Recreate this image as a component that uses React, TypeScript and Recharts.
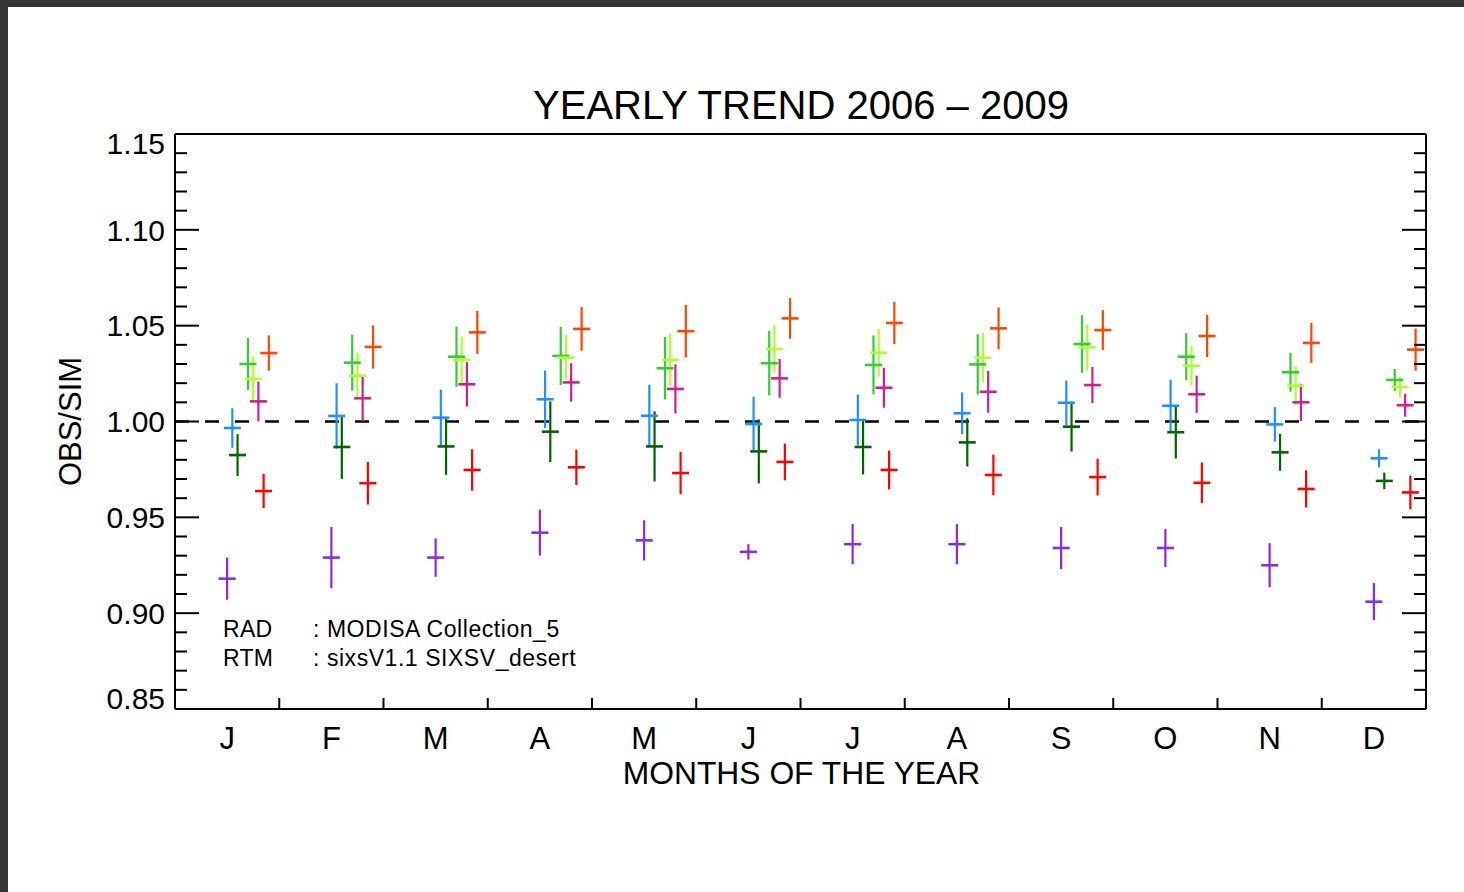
import React from 'react';
import { ComposedChart, Scatter, XAxis, YAxis, ErrorBar, ReferenceLine } from 'recharts';

// ---- labels ----
const TITLE = 'YEARLY TREND 2006 \u2013 2009';
const X_TITLE = 'MONTHS OF THE YEAR';
const Y_TITLE = 'OBS/SIM';
const MONTHS = ['J', 'F', 'M', 'A', 'M', 'J', 'J', 'A', 'S', 'O', 'N', 'D'];
const Y_TICK_LABELS = ['0.85', '0.90', '0.95', '1.00', '1.05', '1.10', '1.15'];
const INFO_KEYS = ['RAD', 'RTM'];
const INFO_VALUES = [': MODISA Collection_5', ': sixsV1.1 SIXSV_desert'];

// ---- monthly mean OBS/SIM ratios and their spread ----
const violetRatio = [0.918, 0.929, 0.929, 0.942, 0.938, 0.932, 0.936, 0.936, 0.934, 0.934, 0.925, 0.906];
const violetErr = [0.011, 0.016, 0.010, 0.012, 0.0105, 0.004, 0.0105, 0.0105, 0.011, 0.010, 0.0115, 0.0097];

const blueRatio = [0.9966, 1.0029, 1.002, 1.0116, 1.003, 0.9987, 1.0008, 1.0043, 1.0098, 1.0082, 0.9985, 0.9808];
const blueErr = [0.0103, 0.017, 0.0146, 0.015, 0.0162, 0.0142, 0.0133, 0.0109, 0.0116, 0.0136, 0.009, 0.0047];

const darkGreenRatio = [0.9825, 0.9867, 0.987, 0.9947, 0.987, 0.9844, 0.9867, 0.9891, 0.9973, 0.9944, 0.9839, 0.969];
const darkGreenErr = [0.0109, 0.0166, 0.0148, 0.0158, 0.0183, 0.0167, 0.0143, 0.0126, 0.013, 0.0137, 0.0096, 0.0043];

const greenRatio = [1.03, 1.0307, 1.0338, 1.0342, 1.0278, 1.0304, 1.0295, 1.0298, 1.0404, 1.0338, 1.0257, 1.0217];
const greenErr = [0.0135, 0.0146, 0.0157, 0.0152, 0.0163, 0.0168, 0.0154, 0.0157, 0.015, 0.0123, 0.0102, 0.0057];

const limeRatio = [1.0222, 1.0239, 1.0321, 1.0333, 1.0321, 1.0378, 1.0359, 1.0333, 1.0387, 1.0291, 1.0187, 1.018];
const limeErr = [0.0117, 0.012, 0.0122, 0.0117, 0.0137, 0.0123, 0.0125, 0.0129, 0.0119, 0.0103, 0.0102, 0.0052];

const magentaRatio = [1.0105, 1.0121, 1.0194, 1.0204, 1.017, 1.0225, 1.0176, 1.0155, 1.019, 1.0142, 1.01, 1.0085];
const magentaErr = [0.0104, 0.012, 0.0116, 0.01, 0.0128, 0.0101, 0.0104, 0.0109, 0.0094, 0.0097, 0.0097, 0.006];

const redRatio = [0.9637, 0.9678, 0.9747, 0.9761, 0.9731, 0.9789, 0.9747, 0.9721, 0.971, 0.968, 0.9648, 0.963];
const redErr = [0.0089, 0.0111, 0.0108, 0.0092, 0.0111, 0.0096, 0.0101, 0.0106, 0.0096, 0.0106, 0.0097, 0.0088];

const orangeRatio = [1.0357, 1.0389, 1.0465, 1.0483, 1.0471, 1.0538, 1.0514, 1.0486, 1.0477, 1.0446, 1.041, 1.0375];
const orangeErr = [0.0092, 0.0113, 0.0112, 0.0114, 0.0137, 0.0106, 0.011, 0.0109, 0.0104, 0.011, 0.0104, 0.011];

// ---- series table: colour and horizontal offset inside each month ----
const SERIES = [
  { key: 'violet', color: '#8a2be2', offset: 0.5, values: violetRatio, errors: violetErr },
  { key: 'blue', color: '#1e90ff', offset: 0.55, values: blueRatio, errors: blueErr },
  { key: 'darkGreen', color: '#006400', offset: 0.6, values: darkGreenRatio, errors: darkGreenErr },
  { key: 'green', color: '#32cd32', offset: 0.7, values: greenRatio, errors: greenErr },
  { key: 'lime', color: '#adff2f', offset: 0.75, values: limeRatio, errors: limeErr },
  { key: 'magenta', color: '#d02090', offset: 0.8, values: magentaRatio, errors: magentaErr },
  { key: 'red', color: '#ff0000', offset: 0.85, values: redRatio, errors: redErr },
  { key: 'orange', color: '#ff4500', offset: 0.9, values: orangeRatio, errors: orangeErr },
].map((s) => ({
  ...s,
  data: MONTHS.map((m, i) => ({ x: i + s.offset, y: s.values[i], err: s.errors[i], month: m })),
}));

// ---- axes ----
const Y_MAJOR = Y_TICK_LABELS.map(Number);
const Y_MIN = Y_MAJOR[0];
const Y_MAX = Y_MAJOR[Y_MAJOR.length - 1];
const Y_ALL_TICKS: number[] = [];
for (let k = Math.round(Y_MIN * 100); k <= Math.round(Y_MAX * 100); k++) Y_ALL_TICKS.push(k / 100);
const isMajorY = (v: number) => Math.round(v * 100) % 5 === 0;

// month boundaries (tick marks) and month centres (labels)
const X_BOUNDARIES = MONTHS.slice(1).map((_, i) => i + 1);
const X_CENTRES = MONTHS.map((_, i) => i + 0.5);
const X_BOTTOM_TICKS = [...X_CENTRES, ...X_BOUNDARIES].sort((a, b) => a - b);

const FONT = '"Liberation Sans", Arial, Helvetica, sans-serif';
const W = 1464;
const H = 892;

const LeftTick = (props: any) => {
  const { x, y, payload } = props;
  const v = payload.value as number;
  const major = isMajorY(v);
  const len = major ? 24 : 12;
  let shift = 0;
  if (Math.abs(v - Y_MIN) < 1e-6) shift = -11;
  if (Math.abs(v - Y_MAX) < 1e-6) shift = 9;
  const idx = Y_MAJOR.findIndex((m) => Math.abs(m - v) < 1e-6);
  return (
    <g>
      <line x1={x} x2={x + len} y1={y} y2={y} stroke="#000" strokeWidth={2} />
      {major && idx >= 0 && (
        <text x={x - 10} y={y + shift} dy="0.36em" textAnchor="end" fontFamily={FONT} fontSize={30} fill="#000">
          {Y_TICK_LABELS[idx]}
        </text>
      )}
    </g>
  );
};

const RightTick = (props: any) => {
  const { x, y, payload } = props;
  const len = isMajorY(payload.value) ? 24 : 12;
  return <line x1={x - len} x2={x} y1={y} y2={y} stroke="#000" strokeWidth={2} />;
};

const BottomTick = (props: any) => {
  const { x, y, payload } = props;
  const v = payload.value as number;
  if (Number.isInteger(v)) {
    return <line x1={x} x2={x} y1={y} y2={y - 11} stroke="#000" strokeWidth={2} />;
  }
  return (
    <text x={x} y={y + 40} textAnchor="middle" fontFamily={FONT} fontSize={31} fill="#000">
      {MONTHS[Math.floor(v)]}
    </text>
  );
};

const TopTick = (props: any) => {
  const { x, y } = props;
  return <line x1={x} x2={x} y1={y} y2={y + 11} stroke="#000" strokeWidth={2} />;
};

const makeCross = (color: string) => (props: any) => {
  const { cx, cy } = props;
  if (cx == null || cy == null) return <g />;
  return <line x1={cx - 8.5} x2={cx + 8.5} y1={cy} y2={cy} stroke={color} strokeWidth={2.6} />;
};

const axisLine = { stroke: '#000', strokeWidth: 2 };

export default function App() {
  return (
    <div style={{ position: 'absolute', left: 0, top: 0, width: W, height: H, background: '#363636' }}>
      <div style={{ position: 'absolute', left: 8, top: 7, width: W - 8, height: H - 7, background: '#fff' }} />
      <div style={{ position: 'absolute', left: 0, top: 0 }}>
        <ComposedChart width={W} height={H} margin={{ top: 124, right: 28, bottom: 153, left: 115 }}>
          <XAxis
            xAxisId={0}
            dataKey="x"
            type="number"
            domain={[0, MONTHS.length]}
            ticks={X_BOTTOM_TICKS}
            interval={0}
            height={30}
            tickSize={0}
            tickMargin={0}
            tickLine={false}
            axisLine={axisLine}
            tick={<BottomTick />}
            allowDataOverflow
          />
          <XAxis
            xAxisId="top"
            orientation="top"
            type="number"
            domain={[0, MONTHS.length]}
            ticks={X_BOUNDARIES}
            interval={0}
            height={10}
            tickSize={0}
            tickMargin={0}
            tickLine={false}
            axisLine={axisLine}
            tick={<TopTick />}
            allowDataOverflow
          />
          <YAxis
            yAxisId={0}
            dataKey="y"
            type="number"
            domain={[Y_MIN, Y_MAX]}
            ticks={Y_ALL_TICKS}
            interval={0}
            width={60}
            tickSize={0}
            tickMargin={0}
            tickLine={false}
            axisLine={axisLine}
            tick={<LeftTick />}
            allowDataOverflow
          />
          <YAxis
            yAxisId="r"
            orientation="right"
            type="number"
            domain={[Y_MIN, Y_MAX]}
            ticks={Y_ALL_TICKS}
            interval={0}
            width={10}
            tickSize={0}
            tickMargin={0}
            tickLine={false}
            axisLine={axisLine}
            tick={<RightTick />}
            allowDataOverflow
          />
          <ReferenceLine y={1} yAxisId={0} xAxisId={0} stroke="#000" strokeWidth={2.6} strokeDasharray="14 16" />
          {SERIES.map((s) => (
            <Scatter
              key={s.key}
              name={s.key}
              data={s.data}
              xAxisId={0}
              yAxisId={0}
              fill={s.color}
              shape={makeCross(s.color)}
              isAnimationActive={false}
            >
              <ErrorBar dataKey="err" direction="y" width={0} stroke={s.color} strokeWidth={2.2} isAnimationActive={false} />
            </Scatter>
          ))}
        </ComposedChart>
      </div>
      <svg
        width={W}
        height={H}
        style={{ position: 'absolute', left: 0, top: 0, pointerEvents: 'none' }}
        fontFamily={FONT}
      >
        <text x={801} y={119} textAnchor="middle" fontSize={40} fill="#000">
          {TITLE}
        </text>
        <text x={801.5} y={784} textAnchor="middle" fontSize={31.8} fill="#000">
          {X_TITLE}
        </text>
        <text transform="translate(81, 421.5) rotate(-90)" textAnchor="middle" fontSize={31} fill="#000">
          {Y_TITLE}
        </text>
        {INFO_KEYS.map((k, i) => (
          <g key={k}>
            <text x={223} y={637 + i * 29} fontSize={23} letterSpacing={0.3} fill="#000">
              {k}
            </text>
            <text x={313} y={637 + i * 29} fontSize={23} letterSpacing={0.55} fill="#000">
              {INFO_VALUES[i]}
            </text>
          </g>
        ))}
      </svg>
    </div>
  );
}
